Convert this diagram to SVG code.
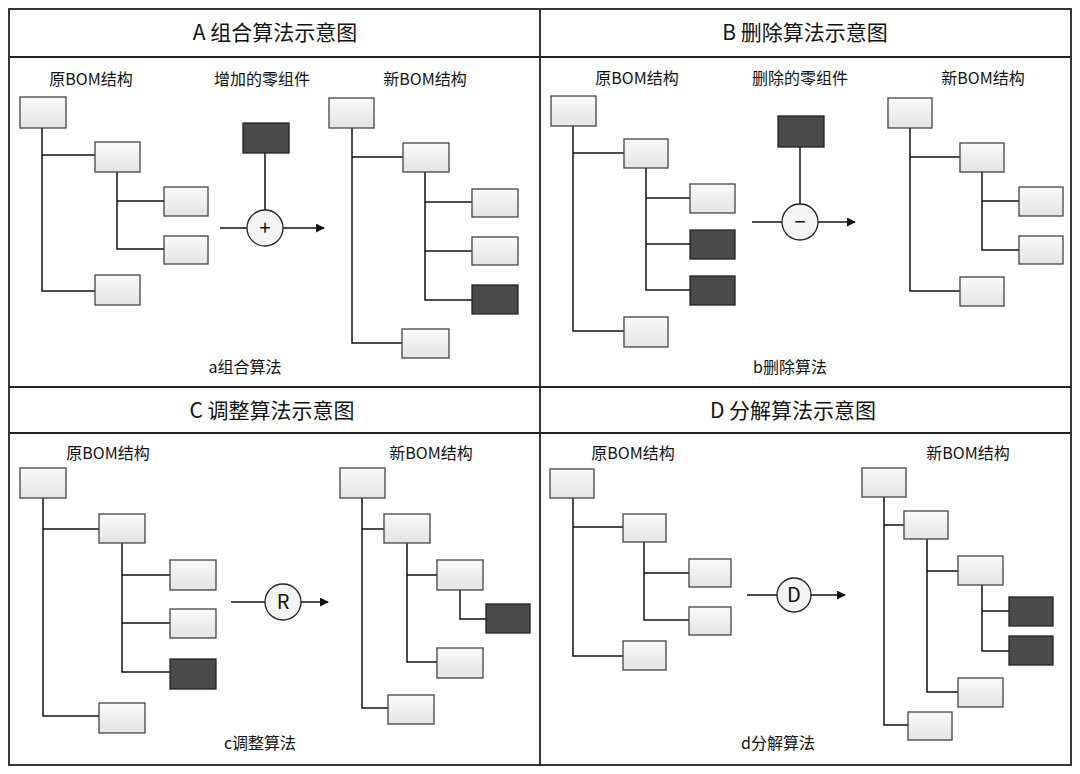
<svg xmlns="http://www.w3.org/2000/svg" width="1080" height="774" viewBox="0 0 1080 774">
<defs>
<linearGradient id="g" x1="0" y1="0" x2="0" y2="1"><stop offset="0" stop-color="#fafafa"/><stop offset="1" stop-color="#e4e4e4"/></linearGradient>
<marker id="ah" viewBox="0 0 10 10" refX="9" refY="5" markerWidth="9" markerHeight="9" markerUnits="userSpaceOnUse" orient="auto"><path d="M0,0L10,5L0,10z" fill="#111"/></marker>
<style>
.b{fill:url(#g);stroke:#444;stroke-width:1.3}
.d{fill:#4a4a4a;stroke:#222;stroke-width:1.3}
.l{fill:none;stroke:#111;stroke-width:1.5}
.c{fill:#f4f4f4;stroke:#222;stroke-width:1.3}
.t{font-family:"Noto Sans CJK SC","Liberation Sans",sans-serif;fill:#111;text-anchor:middle}
.h{font-size:21px}
.s{font-size:16px}
.o{font-size:20px}
</style>
</defs>
<rect width="1080" height="774" fill="#fff"/>
<g id="frame" fill="none" stroke="#222" stroke-width="1.8">
<rect x="9" y="9" width="1062" height="756"/>
<line x1="540" y1="9" x2="540" y2="765"/><line x1="9" y1="387" x2="1071" y2="387"/>
<line x1="9" y1="57" x2="1071" y2="57"/><line x1="9" y1="433" x2="1071" y2="433"/>
</g>
<g id="labels" class="t">
<text class="h" x="275" y="40">A 组合算法示意图</text>
<text class="h" x="805" y="40">B 删除算法示意图</text>
<text class="h" x="272" y="418">C 调整算法示意图</text>
<text class="h" x="793" y="418">D 分解算法示意图</text>
<text class="s" x="91" y="85">原BOM结构</text><text class="s" x="262" y="85">增加的零组件</text><text class="s" x="425" y="85">新BOM结构</text><text class="s" x="245" y="373">a组合算法</text>
<text class="s" x="637" y="84">原BOM结构</text><text class="s" x="800" y="84">删除的零组件</text><text class="s" x="983" y="84">新BOM结构</text><text class="s" x="790" y="373">b删除算法</text>
<text class="s" x="108" y="459">原BOM结构</text><text class="s" x="431" y="459">新BOM结构</text><text class="s" x="260" y="749">c调整算法</text>
<text class="s" x="633" y="459">原BOM结构</text><text class="s" x="968" y="459">新BOM结构</text><text class="s" x="778" y="749">d分解算法</text>
</g>
<g id="connectors" class="l">
<path d="M42,128V291H95M42,155H95M117,172V249H164M117,201H164"/>
<path d="M265,153V210M220,228H247M283,228H324" marker-end="url(#ah)"/>
<path d="M352,128V343H402M352,157H403M425,172V300H472M425,202H472M425,251H472"/>
<path d="M573,126V331H624M573,153H624M646,168V290H690M646,198H690M646,244H690"/>
<path d="M800,147V204M752,222H782M818,222H855" marker-end="url(#ah)"/>
<path d="M910,128V291H960M910,157H960M982,172V250H1019M982,201H1019"/>
<path d="M43,498V716H99M43,529H99M122,543V672H170M122,575H170M122,623H170"/>
<path d="M231,602H265M301,602H328" marker-end="url(#ah)"/>
<path d="M362,498V708H388M362,529H384M407,543V662H437M407,575H437M460,590V619H486"/>
<path d="M573,498V656H623M573,527H623M644,542V620H689M644,573H689"/>
<path d="M747,595H777M811,595H845" marker-end="url(#ah)"/>
<path d="M884,497V725H908M884,525H904M927,539V692H958M927,571H958M982,585V651H1009M982,611H1009"/>
</g>
<g id="nodesA">
<rect class="b" x="20" y="97" width="46" height="31"/><rect class="b" x="95" y="142" width="45" height="30"/><rect class="b" x="164" y="187" width="44" height="29"/><rect class="b" x="164" y="236" width="44" height="28"/><rect class="b" x="95" y="275" width="45" height="30"/>
<rect class="d" x="243" y="123" width="46" height="30"/>
<circle class="c" cx="265" cy="228" r="18"/><text class="t o" x="265" y="235">+</text>
<rect class="b" x="329" y="98" width="45" height="30"/><rect class="b" x="403" y="143" width="46" height="29"/><rect class="b" x="472" y="189" width="46" height="28"/><rect class="b" x="472" y="237" width="46" height="28"/><rect class="d" x="472" y="285" width="46" height="29"/><rect class="b" x="402" y="329" width="47" height="29"/>
</g>
<g id="nodesB">
<rect class="b" x="551" y="96" width="45" height="30"/><rect class="b" x="624" y="139" width="44" height="29"/><rect class="b" x="690" y="184" width="45" height="29"/><rect class="d" x="690" y="230" width="45" height="29"/><rect class="d" x="690" y="276" width="45" height="29"/><rect class="b" x="624" y="317" width="44" height="30"/>
<rect class="d" x="778" y="116" width="46" height="31"/>
<circle class="c" cx="800" cy="222" r="18"/><text class="t o" x="800" y="229">−</text>
<rect class="b" x="888" y="98" width="44" height="30"/><rect class="b" x="960" y="143" width="44" height="29"/><rect class="b" x="1019" y="187" width="44" height="29"/><rect class="b" x="1019" y="236" width="44" height="28"/><rect class="b" x="960" y="277" width="44" height="29"/>
</g>
<g id="nodesC">
<rect class="b" x="20" y="468" width="46" height="30"/><rect class="b" x="99" y="514" width="46" height="29"/><rect class="b" x="170" y="560" width="46" height="30"/><rect class="b" x="170" y="609" width="46" height="29"/><rect class="d" x="170" y="659" width="46" height="30"/><rect class="b" x="99" y="703" width="46" height="30"/>
<circle class="c" cx="283" cy="602" r="18"/><text class="t o" x="283" y="609">R</text>
<rect class="b" x="340" y="468" width="45" height="30"/><rect class="b" x="384" y="514" width="46" height="29"/><rect class="b" x="437" y="560" width="46" height="30"/><rect class="d" x="486" y="604" width="44" height="29"/><rect class="b" x="437" y="648" width="46" height="30"/><rect class="b" x="388" y="695" width="46" height="29"/>
</g>
<g id="nodesD">
<rect class="b" x="550" y="469" width="44" height="29"/><rect class="b" x="623" y="514" width="43" height="28"/><rect class="b" x="689" y="559" width="42" height="28"/><rect class="b" x="689" y="607" width="42" height="28"/><rect class="b" x="623" y="641" width="43" height="29"/>
<circle class="c" cx="794" cy="595" r="17"/><text class="t o" x="794" y="602">D</text>
<rect class="b" x="862" y="468" width="44" height="29"/><rect class="b" x="904" y="511" width="44" height="28"/><rect class="b" x="958" y="556" width="45" height="29"/><rect class="d" x="1009" y="597" width="44" height="29"/><rect class="d" x="1009" y="636" width="44" height="29"/><rect class="b" x="958" y="678" width="45" height="29"/><rect class="b" x="908" y="712" width="44" height="28"/>
</g>
</svg>
